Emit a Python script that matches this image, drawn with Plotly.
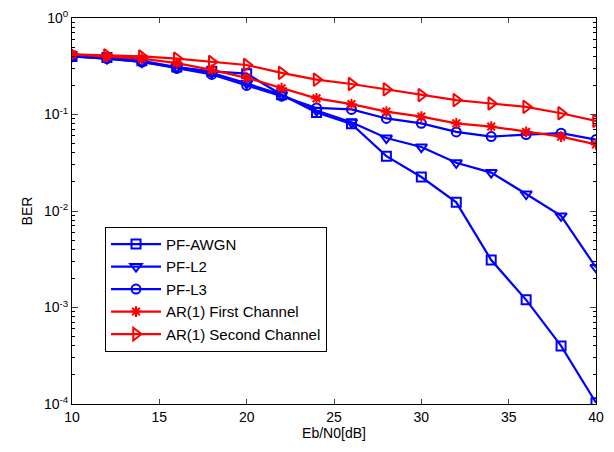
import plotly.graph_objects as go

ebn0 = [10, 12, 14, 16, 18, 20, 22, 24, 26, 28, 30, 32, 34, 36, 38, 40]

pf_awgn = [0.40, 0.39, 0.36, 0.31, 0.28, 0.265, 0.16, 0.105, 0.080, 0.037, 0.0225, 0.0123, 0.0031, 0.0012, 0.0004, 0.000103]
pf_l2 = [0.40, 0.38, 0.35, 0.31, 0.27, 0.21, 0.16, 0.11, 0.083, 0.057, 0.046, 0.0316, 0.025, 0.015, 0.0089, 0.0026]
pf_l3 = [0.40, 0.38, 0.35, 0.30, 0.26, 0.20, 0.155, 0.117, 0.113, 0.091, 0.081, 0.066, 0.059, 0.062, 0.064, 0.055]
ar1_first = [0.42, 0.40, 0.38, 0.34, 0.29, 0.24, 0.187, 0.147, 0.128, 0.107, 0.095, 0.081, 0.075, 0.066, 0.059, 0.049]
ar1_second = [0.42, 0.41, 0.40, 0.38, 0.35, 0.326, 0.27, 0.23, 0.207, 0.182, 0.159, 0.141, 0.13, 0.12, 0.103, 0.086]

y_tickvals = [1e-4, 1e-3, 1e-2, 1e-1, 1e0]
y_ticktext = ["10<sup>-4</sup>", "10<sup>-3</sup>", "10<sup>-2</sup>", "10<sup>-1</sup>", "10<sup>0</sup>"]
y_minor_vals = [k * 10.0 ** d for d in (-4, -3, -2, -1) for k in range(2, 10)]
x_tickvals = [10, 15, 20, 25, 30, 35, 40]

BLUE = "#0000FF"
RED = "#FF0000"

series = [
    ("PF-AWGN", pf_awgn, BLUE, "square-open", 9),
    ("PF-L2", pf_l2, BLUE, "triangle-down-open", 10),
    ("PF-L3", pf_l3, BLUE, "circle-open", 9),
    ("AR(1) First Channel", ar1_first, RED, "asterisk-open", 9),
    ("AR(1) Second Channel", ar1_second, RED, "triangle-right-open", 11),
]

fig = go.Figure()
for i, (name, vals, col, sym, sz) in enumerate(series):
    fig.add_trace(go.Scatter(
        x=ebn0, y=vals, name=name, mode="lines+markers", legendgroup=f"g{i}",
        line=dict(color=col, width=2.2),
        marker=dict(symbol=sym, size=sz, color=col, line=dict(color=col, width=2)),
    ))

# invisible trace to carry the minor-tick overlay axis
fig.add_trace(go.Scatter(x=[ebn0[0]], y=[pf_awgn[0]], yaxis="y2", mode="markers",
                         marker=dict(opacity=0), showlegend=False, hoverinfo="skip"))

axis_font = dict(family="Liberation Sans, Arial, sans-serif", size=14, color="black")

fig.update_layout(
    width=598, height=436,
    margin=dict(l=64, r=10, t=10, b=40),
    paper_bgcolor="white", plot_bgcolor="white",
    font=axis_font,
    showlegend=True,
    legend=dict(
        x=0.063, y=0.459, xanchor="left", yanchor="top",
        bgcolor="white", bordercolor="black", borderwidth=1,
        font=dict(family="Liberation Sans, Arial, sans-serif", size=15, color="black"),
        traceorder="grouped", tracegroupgap=0, itemwidth=50,
    ),
    xaxis=dict(
        range=[10, 40], tickvals=x_tickvals, ticks="inside", ticklen=5,
        showline=True, linecolor="black", linewidth=1, mirror="ticks",
        showgrid=False, zeroline=False, automargin=False,
        title=dict(text="Eb/N0[dB]", standoff=4, font=axis_font),
        tickfont=axis_font,
    ),
    yaxis=dict(
        type="log", range=[-4, 0], tickvals=y_tickvals, ticktext=y_ticktext,
        ticks="inside", ticklen=6,
        showline=True, linecolor="black", linewidth=1, mirror="ticks",
        showgrid=False, zeroline=False, automargin=False,
        title=dict(text="BER", standoff=8, font=axis_font),
        tickfont=axis_font,
    ),
    yaxis2=dict(
        type="log", range=[-4, 0], overlaying="y", side="left", anchor="x",
        tickvals=y_minor_vals, ticks="inside", ticklen=3, tickcolor="black",
        showticklabels=False, showline=False, mirror="ticks",
        showgrid=False, zeroline=False, automargin=False,
    ),
)

fig.write_html("out.html")
